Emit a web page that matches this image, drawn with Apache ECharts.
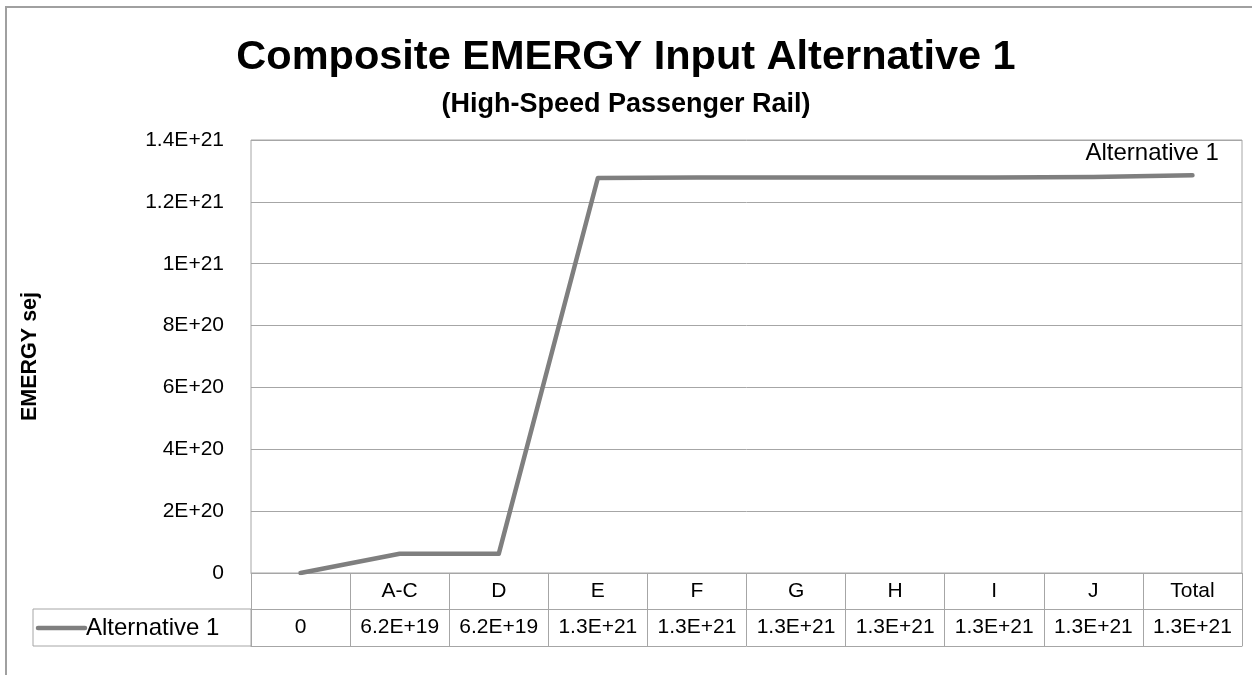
<!DOCTYPE html>
<html>
<head>
<meta charset="utf-8">
<script src="https://cdn.jsdelivr.net/npm/echarts@6/dist/echarts.min.js"></script>
<style>html,body{margin:0;padding:0;background:#fff;}#c{width:1252px;height:675px;}</style>
</head>
<body>
<div id="c"></div>
<script>
var categories = ["", "A-C", "D", "E", "F", "G", "H", "I", "J", "Total"];
var seriesName = "Alternative 1";
var values = [0, 6.2e19, 6.2e19, 1.277e21, 1.279e21, 1.279e21, 1.279e21, 1.279e21, 1.280e21, 1.286e21];
var yTicks = { min: 0, max: 1.4e21, interval: 2e20 };
var titleText = "Composite EMERGY Input Alternative 1";
var subtitleText = "(High-Speed Passenger Rail)";
var yAxisTitle = "EMERGY sej";

var FONT = "'Liberation Sans', Arial, sans-serif";
var GRID_COLOR = '#a6a6a6';
var LINE_COLOR = '#7f7f7f';
var NUM_SIZE = 21;
var TXT_SIZE = 24;

function fmtAxis(v) {
  if (v === 0) return '0';
  return Number(v.toPrecision(3)).toExponential().replace('e', 'E');
}
function fmtTable(v) {
  if (v === 0) return '0';
  return v.toExponential(1).toUpperCase();
}
var tableValues = values.map(fmtTable);

var gl = 251, gr = 10, gt = 140, gb = 102;

var chart = echarts.init(document.getElementById('c'), null, { renderer: 'canvas' });
chart.setOption({
  animation: false,
  backgroundColor: '#fff',
  textStyle: { fontFamily: FONT },
  title: [
    { text: titleText, left: 'center', top: 32, textStyle: { fontFamily: FONT, fontSize: 41.5, fontWeight: 'bold', color: '#000' } },
    { text: subtitleText, left: 'center', top: 86, textStyle: { fontFamily: FONT, fontSize: 27, fontWeight: 'bold', color: '#000' } }
  ],
  grid: { left: gl, right: gr, top: gt, bottom: gb, show: true, borderColor: GRID_COLOR, borderWidth: 1 },
  xAxis: [
    {
      type: 'category', data: categories, boundaryGap: true, position: 'bottom',
      axisLine: { show: true, lineStyle: { color: GRID_COLOR, width: 1 } },
      axisTick: { show: true, length: 73, lineStyle: { color: GRID_COLOR, width: 1 } },
      axisLabel: { show: true, margin: 18, verticalAlign: 'middle', fontSize: NUM_SIZE, color: '#000', fontFamily: FONT, interval: 0 }
    },
    {
      type: 'category', data: tableValues, boundaryGap: true, position: 'bottom', offset: 36,
      axisLine: { show: true, lineStyle: { color: GRID_COLOR, width: 1 } },
      axisTick: { show: false },
      axisLabel: { show: true, margin: 18, verticalAlign: 'middle', fontSize: NUM_SIZE, color: '#000', fontFamily: FONT, interval: 0 }
    },
    {
      type: 'category', data: categories, boundaryGap: true, position: 'bottom', offset: 73,
      axisLine: { show: true, lineStyle: { color: GRID_COLOR, width: 1 } },
      axisTick: { show: false },
      axisLabel: { show: false }
    }
  ],
  yAxis: {
    type: 'value', min: yTicks.min, max: yTicks.max, interval: yTicks.interval,
    name: yAxisTitle, nameLocation: 'middle', nameRotate: 90, nameGap: 210,
    nameTextStyle: { fontFamily: FONT, fontSize: 21.5, fontWeight: 'bold', color: '#000' },
    axisLine: { show: false }, axisTick: { show: false },
    axisLabel: { formatter: fmtAxis, fontSize: NUM_SIZE, color: '#000', margin: 27, fontFamily: FONT },
    splitLine: { show: true, lineStyle: { color: GRID_COLOR, width: 1 } }
  },
  series: [{
    name: seriesName, type: 'line', xAxisIndex: 0, data: values,
    symbol: 'none', lineStyle: { color: LINE_COLOR, width: 4.5, cap: 'round', join: 'round' },
    itemStyle: { color: LINE_COLOR },
    endLabel: {
      show: true, formatter: seriesName, distance: 5, offset: [-112, -22],
      fontSize: TXT_SIZE, color: '#000', fontFamily: FONT
    }
  }],
  graphic: [
    { type: 'rect', shape: { x: 6, y: 7, width: 1300, height: 720 }, style: { fill: 'none', stroke: '#a0a0a0', lineWidth: 2 }, silent: true },
    { type: 'rect', shape: { x: 33, y: 609, width: gl - 33, height: 37 }, style: { fill: 'none', stroke: GRID_COLOR, lineWidth: 1 }, silent: true },
    { type: 'line', shape: { x1: 38, y1: 628, x2: 85, y2: 628 }, style: { stroke: LINE_COLOR, lineWidth: 4.5, lineCap: 'round' }, silent: true },
    { type: 'text', x: 86, y: 628, style: { text: seriesName, fontSize: TXT_SIZE, fontFamily: FONT, fill: '#000', verticalAlign: 'middle', align: 'left' }, silent: true }
  ]
});
</script>
</body>
</html>
